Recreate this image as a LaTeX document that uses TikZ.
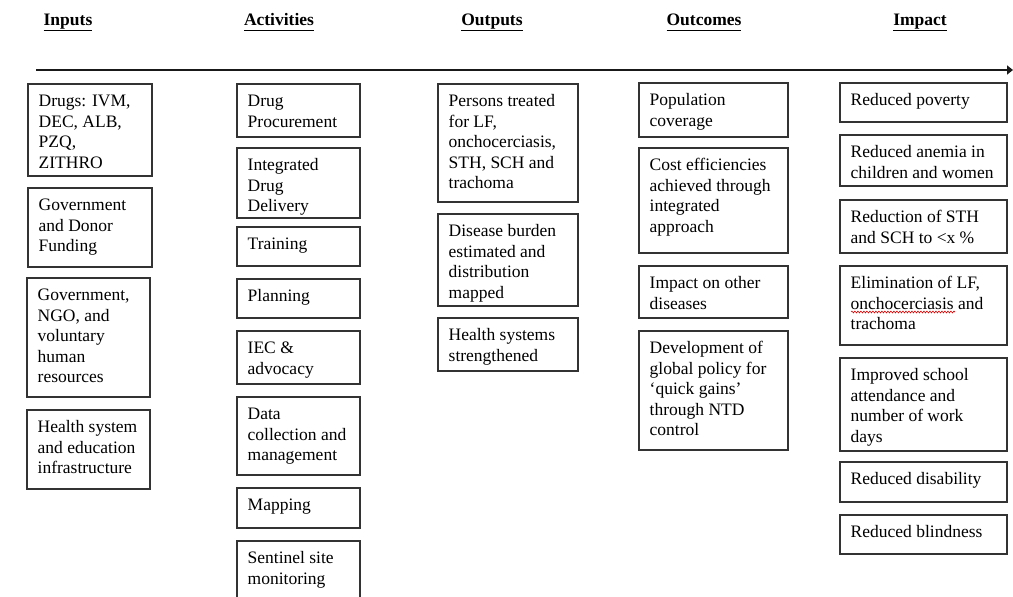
\documentclass[tikz,border=0pt]{standalone}
\usepackage{fontspec}
\setmainfont{Liberation Serif}
\usetikzlibrary{arrows.meta,decorations.pathmorphing}
\tikzset{
  boxs/.style={draw=black!80, line width=1.3pt, inner sep=0pt, outer sep=0pt, rectangle, anchor=north west},
  txt/.style={anchor=north west, inner sep=0pt, align=left, font=\fontsize{17.5}{20.5}\selectfont},
  hdr/.style={anchor=base, inner sep=0pt, font=\fontsize{17.5}{20}\selectfont\bfseries},
  axisline/.style={line width=1.8pt, draw=black!90, -{Triangle[length=6pt,width=9pt]}},
  spell/.style={draw=red!85!black, line width=0.6pt, decorate, decoration={snake, amplitude=0.9pt, segment length=3pt}}
}
\newcommand\mybox[6]{%
  \node[boxs, minimum width={(#4-#2)*1pt}, minimum height={(#5-#3)*1pt}] (#1) at (#2,#3) {};
  \node[txt] (#1t) at ([xshift=10.5pt,yshift=-8.2pt]#1.north west) {\strut #6};
}
\begin{document}
\begin{tikzpicture}[x=1pt,y=-1pt]
\useasboundingbox (0,0) rectangle (1013,597);
\clip (0,0) rectangle (1013,597);
\fill[white] (0,0) rectangle (1013,597);

% headers
\node[hdr] (hin)  at (68,25)  {\underline{\vphantom{p}Inputs}};
\node[hdr] (hact) at (279,25) {\underline{\vphantom{p}Activities}};
\node[hdr] (hout) at (492,25) {\underline{\vphantom{p}Outputs}};
\node[hdr] (hoc)  at (704,25) {\underline{\vphantom{p}Outcomes}};
\node[hdr] (himp) at (920,25) {\underline{\vphantom{p}Impact}};

% axis arrow
\coordinate (astart) at (36,70);
\coordinate (aend) at (1013,70);
\draw[axisline] (astart) -- (aend);

% Inputs
\mybox{in1}{28}{84}{152}{176}{Drugs: IVM,\\DEC, ALB,\\PZQ,\\ZITHRO}
\mybox{in2}{28}{188}{152}{267}{Government\\and Donor\\Funding}
\mybox{in3}{27}{278}{150}{397}{Government,\\NGO, and\\voluntary\\human\\resources}
\mybox{in4}{27}{410}{150}{489}{Health system\\and education\\infrastructure}

% Activities
\mybox{ac1}{237}{84}{360}{137}{Drug\\Procurement}
\mybox{ac2}{237}{148}{360}{218}{Integrated\\Drug\\Delivery}
\mybox{ac3}{237}{227}{360}{266}{Training}
\mybox{ac4}{237}{279}{360}{318}{Planning}
\mybox{ac5}{237}{331}{360}{384}{IEC \&\\advocacy}
\mybox{ac6}{237}{397}{360}{475}{Data\\collection and\\management}
\mybox{ac7}{237}{488}{360}{528}{Mapping}
\mybox{ac8}{237}{541}{360}{615}{Sentinel site\\monitoring}

% Outputs
\mybox{op1}{438}{84}{578}{202}{Persons treated\\for LF,\\onchocerciasis,\\STH, SCH and\\trachoma}
\mybox{op2}{438}{214}{578}{306}{Disease burden\\estimated and\\distribution\\mapped}
\mybox{op3}{438}{318}{578}{371}{Health systems\\strengthened}

% Outcomes
\mybox{oc1}{639}{83}{788}{137}{Population\\coverage}
\mybox{oc2}{639}{148}{788}{253}{Cost efficiencies\\achieved through\\integrated\\approach}
\mybox{oc3}{639}{266}{788}{318}{Impact on other\\diseases}
\mybox{oc4}{639}{331}{788}{450}{Development of\\global policy for\\‘quick gains’\\through NTD\\control}

% Impact
\mybox{im1}{840}{83}{1007}{122}{Reduced poverty}
\mybox{im2}{840}{135}{1007}{186}{Reduced anemia in\\children and women}
\mybox{im3}{840}{200}{1007}{253}{Reduction of STH\\and SCH to <x \%}
\mybox{im4}{840}{266}{1007}{345}{Elimination of LF,\\onchocerciasis and\\trachoma}
\mybox{im5}{840}{358}{1007}{451}{Improved school\\attendance and\\number of work\\days}
\mybox{im6}{840}{462}{1007}{502}{Reduced disability}
\mybox{im7}{840}{515}{1007}{554}{Reduced blindness}

% spell-check mark
\draw[spell] (851,312) -- (955,312);
\end{tikzpicture}
\end{document}
